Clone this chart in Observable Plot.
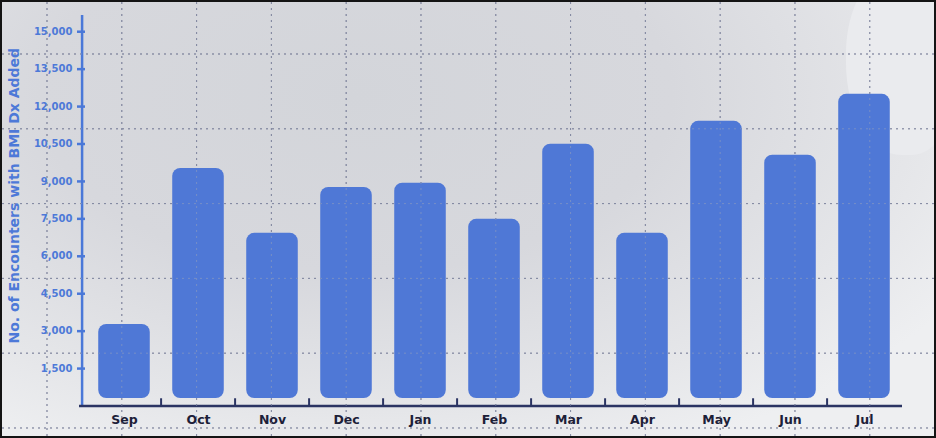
<!DOCTYPE html>
<html>
<head>
<meta charset="utf-8">
<script src="https://cdn.jsdelivr.net/npm/d3@7"></script>
<script src="https://cdn.jsdelivr.net/npm/@observablehq/plot@0.6"></script>
<style>
  html, body { margin: 0; padding: 0; background: #fff; }
  #wrap {
    position: relative; width: 936px; height: 438px; overflow: hidden;
    background: radial-gradient(ellipse 75% 90% at 38% 22%, #d3d5da 0%, #d7d8dd 45%, #e5e6e9 80%, #eeeff1 100%);
    font-family: "DejaVu Sans", sans-serif;
  }
  #blob {
    position: absolute; left: 846px; top: -30px; width: 110px; height: 185px;
    border-radius: 45% 50% 40% 50%; background: #eaebee;
  }
  .grid {
    position: absolute; left: 0; top: 0; right: 0; bottom: 0; pointer-events: none;
    background-size: 74.8px 6px, 6px 74.8px;
    background-position: 9.6px 0px, 0px 16.6px;
  }
  #grid {
    background-image:
      radial-gradient(circle, rgba(60,62,95,0.7) 0.55px, transparent 0.85px),
      radial-gradient(circle, rgba(60,62,95,0.7) 0.55px, transparent 0.85px);
  }
  #gridTop {
    background-image:
      radial-gradient(circle, rgba(150,160,185,0.55) 0.55px, transparent 0.85px),
      radial-gradient(circle, rgba(150,160,185,0.55) 0.55px, transparent 0.85px);
  }
  #chart { position: absolute; left: 0; top: 0; }
  #frame {
    position: absolute; left: 0; top: 0; right: 0; bottom: 0;
    border: 2px solid #141414; box-sizing: border-box; pointer-events: none;
  }
</style>
</head>
<body>
<div id="wrap">
  <div id="blob"></div>
  <div id="grid" class="grid"></div>
  <div id="chart"></div>
  <div id="gridTop" class="grid"></div>
  <div id="frame"></div>
</div>
<script>
const months = ["Sep", "Oct", "Nov", "Dec", "Jan", "Feb", "Mar", "Apr", "May", "Jun", "Jul"];
const encounters = [3270, 9520, 6920, 8760, 8930, 7480, 10490, 6920, 11410, 10050, 12490];
const yTicks = [1500, 3000, 4500, 6000, 7500, 9000, 10500, 12000, 13500, 15000];
const yLabel = "No. of Encounters with BMI Dx Added";

const data = months.map((m, i) => ({month: m, value: encounters[i]}));

const W = 936, H = 438;
const mL = 82, mR = 31;
const step = (W - mL - mR) / months.length;
const blue = "#4f78d6";
const axisBlue = "#4a78d8";
const navy = "#2b3463";

const chart = Plot.plot({
  width: W,
  height: H,
  marginLeft: mL,
  marginRight: mR,
  marginTop: 15,
  marginBottom: 32.5,
  style: {background: "transparent", overflow: "visible", fontFamily: "'DejaVu Sans', sans-serif"},
  x: {domain: months, padding: 0, label: null},
  y: {domain: [0, 15650], label: null},
  marks: [
    Plot.barY(data, {x: "month", y: "value", fill: blue, rx: 8,
      insetLeft: step * 0.15, insetRight: step * 0.15, insetBottom: 7.5}),
    // y axis line
    Plot.ruleX([months[0]], {stroke: axisBlue, strokeWidth: 2.5, dx: -(step / 2 + 5)}),
    // y ticks (pointing inward)
    Plot.axisY({ticks: yTicks, tickSize: 8, dx: 3, tickFormat: () => "", stroke: axisBlue, strokeWidth: 2.5, label: null}),
    // y tick labels
    Plot.axisY({ticks: yTicks, tickSize: 0, tickPadding: 10, tickFormat: d3.format(","),
      fill: "#4d79d8", fontSize: 10, fontWeight: 700, label: null}),
    // x axis line
    Plot.ruleY([0], {stroke: navy, strokeWidth: 2.5, dx: -3}),
    // x ticks between bands
    Plot.ruleX(months.slice(1), {y1: 0, y2: 290, dx: -step / 2, stroke: navy, strokeWidth: 2}),
    // x labels
    Plot.axisX({tickSize: 0, tickPadding: 9, fill: "#1c2038", fontSize: 12.5, fontWeight: 700, label: null}),
    // y title
    Plot.text([yLabel], {frameAnchor: "left", textAnchor: "middle", rotate: -90, dx: -68, dy: -15,
      fill: "#4d79d8", fontSize: 14, fontWeight: 700})
  ]
});
document.getElementById("chart").appendChild(chart);
</script>
</body>
</html>
